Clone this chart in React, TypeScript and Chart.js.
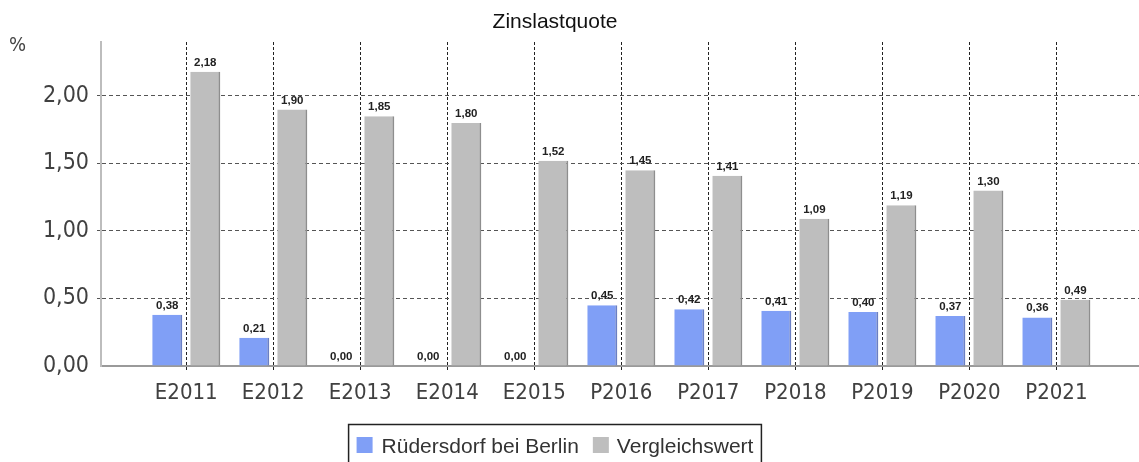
import React, { useEffect, useRef } from "react";
import { Chart, registerables } from "chart.js";

Chart.register(...registerables);

const categories = ["E2011", "E2012", "E2013", "E2014", "E2015", "P2016", "P2017", "P2018", "P2019", "P2020", "P2021"];
const ruedersdorf = [0.38, 0.21, 0.0, 0.0, 0.0, 0.45, 0.42, 0.41, 0.4, 0.37, 0.36];
const vergleich = [2.18, 1.9, 1.85, 1.8, 1.52, 1.45, 1.41, 1.09, 1.19, 1.3, 0.49];
const yTicks = [0, 0.5, 1.0, 1.5, 2.0];
const seriesNames = ["Rüdersdorf bei Berlin", "Vergleichswert"];
const chartTitle = "Zinslastquote";
const yUnit = "%";

const BLUE = "#809ff6";
const BLUE_SHADE = "#6a7fc4";
const GRAY = "#bebebe";
const GRAY_SHADE = "#8e8e8e";

const fmt = (v: number) => v.toFixed(2).replace(".", ",");

const extrasPlugin = {
  id: "extras",
  afterDatasetsDraw(chart: any) {
    const ctx = chart.ctx;
    ctx.save();
    ctx.font = "bold 11.5px 'Liberation Sans', Arial, sans-serif";
    ctx.fillStyle = "#222";
    ctx.textAlign = "center";
    ctx.textBaseline = "alphabetic";
    chart.data.datasets.forEach((ds: any, di: number) => {
      const meta = chart.getDatasetMeta(di);
      meta.data.forEach((el: any, i: number) => {
        const v = ds.data[i].y;
        ctx.fillText(fmt(v), el.x, el.y - 6);
      });
    });
    ctx.restore();
  },
  afterDraw(chart: any) {
    const ctx = chart.ctx;
    ctx.save();
    // title
    ctx.font = "21px 'Liberation Sans', Arial, sans-serif";
    ctx.fillStyle = "#111";
    ctx.textAlign = "center";
    ctx.textBaseline = "alphabetic";
    ctx.fillText(chartTitle, 555, 28);
    // unit
    ctx.font = "20px 'DejaVu Sans Condensed', 'DejaVu Sans', sans-serif";
    ctx.fillStyle = "#444";
    ctx.textAlign = "left";
    ctx.fillText(yUnit, 9, 51);
    // legend
    ctx.font = "21px 'Liberation Sans', Arial, sans-serif";
    const colors = [BLUE, GRAY];
    const w0 = ctx.measureText(seriesNames[0]).width;
    const w1 = ctx.measureText(seriesNames[1]).width;
    const box = 16;
    const total = box + 9 + w0 + 14 + box + 8 + w1;
    const left = 555 - total / 2;
    ctx.strokeStyle = "#222";
    ctx.lineWidth = 1.5;
    ctx.strokeRect(left - 8, 424.5, total + 16, 60);
    let x = left;
    const textBase = 453;
    for (let i = 0; i < 2; i++) {
      ctx.fillStyle = colors[i];
      ctx.fillRect(x, 437, box, box);
      x += box + (i === 0 ? 9 : 8);
      ctx.fillStyle = "#333";
      ctx.fillText(seriesNames[i], x, textBase);
      x += (i === 0 ? w0 : w1) + 14;
    }
    ctx.restore();
  },
};

export default function App() {
  const ref = useRef<HTMLCanvasElement>(null);
  useEffect(() => {
    if (!ref.current) return;
    const xFont = { family: "'DejaVu Sans Condensed', 'DejaVu Sans', sans-serif", size: 22 };
    const yFont = { family: "'DejaVu Sans Condensed', 'DejaVu Sans', sans-serif", size: 23 };
    const chart = new Chart(ref.current, {
      type: "bar",
      data: {
        datasets: [
          {
            label: seriesNames[0],
            data: ruedersdorf.map((v, i) => ({ x: i, y: v })),
            backgroundColor: BLUE,
            borderColor: BLUE_SHADE,
            borderWidth: { top: 0, left: 0, bottom: 0, right: 2 },
            borderSkipped: false,
          },
          {
            label: seriesNames[1],
            data: vergleich.map((v, i) => ({ x: i, y: v })),
            backgroundColor: GRAY,
            borderColor: GRAY_SHADE,
            borderWidth: { top: 0, left: 0, bottom: 0, right: 2 },
            borderSkipped: false,
          },
        ],
      } as any,
      options: {
        animation: false,
        responsive: false,
        devicePixelRatio: 1,
        layout: { padding: { top: 42, left: 0, right: 0, bottom: 0 } },
        plugins: {
          legend: { display: false },
          title: { display: false },
          tooltip: { enabled: false },
        },
        datasets: {
          bar: { categoryPercentage: 0.874, barPercentage: 0.79 },
        } as any,
        scales: {
          x: {
            type: "linear",
            offset: false,
            min: -0.98,
            max: 10.95,
            afterBuildTicks: (scale: any) => {
              scale.ticks = categories.map((_, i) => ({ value: i }));
            },
            afterFit: (scale: any) => {
              scale.height = 96;
            },
            ticks: {
              autoSkip: false,
              maxRotation: 0,
              padding: 9,
              color: "#404040",
              font: xFont,
              callback: (v: any) => categories[v] ?? "",
            },
            grid: {
              offset: false,
              color: "#222",
              lineWidth: 1,
              tickLength: 5,
              tickBorderDash: [3, 2],
            } as any,
            border: { display: true, color: "#9a9a9a", width: 2, dash: [3, 2] },
          } as any,
          y: {
            type: "linear",
            min: 0,
            max: 2.4,
            afterBuildTicks: (scale: any) => {
              scale.ticks = yTicks.map((v) => ({ value: v }));
            },
            afterFit: (scale: any) => {
              scale.width = 101;
            },
            ticks: {
              padding: 8,
              color: "#404040",
              font: yFont,
              callback: (v: any) => fmt(Number(v)),
            },
            grid: {
              color: (c: any) => (c.tick && c.tick.value === 0 ? "rgba(0,0,0,0)" : "#555"),
              lineWidth: 1,
              tickLength: 4,
              tickBorderDash: [4, 3],
            } as any,
            border: { display: true, color: "#bdbdbd", width: 2, dash: [4, 3] },
          } as any,
        },
      },
      plugins: [extrasPlugin],
    });
    return () => chart.destroy();
  }, []);
  return (
    <div style={{ position: "absolute", left: 0, top: 0, width: 1139, height: 462, background: "#fff" }}>
      <canvas ref={ref} width={1139} height={462} style={{ display: "block" }} />
    </div>
  );
}
